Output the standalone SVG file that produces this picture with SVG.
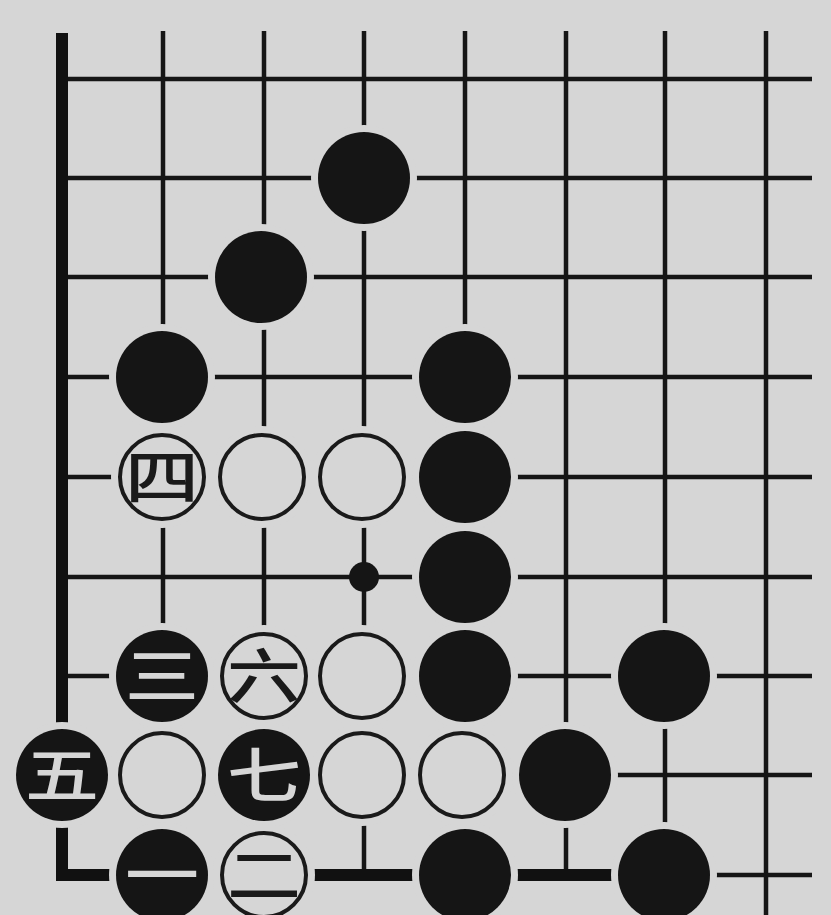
<svg xmlns="http://www.w3.org/2000/svg" width="831" height="915" viewBox="0 0 831 915">
<style>
.thin{stroke:#161616;stroke-width:4.5;fill:none;stroke-linecap:butt}
.edge{stroke:#111;stroke-width:12;fill:none;stroke-linejoin:miter}
.halo{fill:#d6d6d6}
.b{fill:#151515}
.w{fill:#d6d6d6;stroke:#1a1a1a;stroke-width:4}
.star{fill:#151515}
.lb{font-family:"Noto Sans CJK SC","Noto Sans CJK JP",sans-serif;font-size:74px;font-weight:500;text-anchor:middle;fill:#d6d6d6}
.lw{font-family:"Noto Sans CJK SC","Noto Sans CJK JP",sans-serif;font-size:74px;font-weight:500;text-anchor:middle;fill:#1a1a1a}
</style>
<rect width="831" height="915" fill="#d6d6d6"/>
<g id="connectors">
  <path class="thin" d="M62 79H812 M62 178H812 M62 277H812 M62 377H812 M62 477H812 M62 577H812 M62 676H812 M62 775H812"/>
  <path class="thin" d="M163 31V875 M264 31V875 M364 31V875 M465 31V875 M566 31V875 M665 31V875 M766 31V915"/>
  <path class="thin" d="M660 875H812"/>
  <path class="edge" d="M62 33V875H660"/>
</g>
<g id="star"><circle class="star" cx="364" cy="577" r="15"/></g>
<g id="b1"><circle class="halo" cx="364" cy="178" r="53"/><circle class="b" cx="364" cy="178" r="46"/></g>
<g id="b2"><circle class="halo" cx="261" cy="277" r="53"/><circle class="b" cx="261" cy="277" r="46"/></g>
<g id="b3"><circle class="halo" cx="162" cy="377" r="53"/><circle class="b" cx="162" cy="377" r="46"/></g>
<g id="b4"><circle class="halo" cx="465" cy="377" r="53"/><circle class="b" cx="465" cy="377" r="46"/></g>
<g id="b5"><circle class="halo" cx="465" cy="477" r="53"/><circle class="b" cx="465" cy="477" r="46"/></g>
<g id="b6"><circle class="halo" cx="465" cy="577" r="53"/><circle class="b" cx="465" cy="577" r="46"/></g>
<g id="b7"><circle class="halo" cx="465" cy="676" r="53"/><circle class="b" cx="465" cy="676" r="46"/></g>
<g id="b8"><circle class="halo" cx="664" cy="676" r="53"/><circle class="b" cx="664" cy="676" r="46"/></g>
<g id="b9"><circle class="halo" cx="565" cy="775" r="53"/><circle class="b" cx="565" cy="775" r="46"/></g>
<g id="b10"><circle class="halo" cx="465" cy="875" r="53"/><circle class="b" cx="465" cy="875" r="46"/></g>
<g id="b11"><circle class="halo" cx="664" cy="875" r="53"/><circle class="b" cx="664" cy="875" r="46"/></g>
<g id="w1"><circle class="halo" cx="262" cy="477" r="51"/><circle class="w" cx="262" cy="477" r="42"/></g>
<g id="w2"><circle class="halo" cx="362" cy="477" r="51"/><circle class="w" cx="362" cy="477" r="42"/></g>
<g id="w3"><circle class="halo" cx="362" cy="676" r="51"/><circle class="w" cx="362" cy="676" r="42"/></g>
<g id="w4"><circle class="halo" cx="162" cy="775" r="51"/><circle class="w" cx="162" cy="775" r="42"/></g>
<g id="w5"><circle class="halo" cx="362" cy="775" r="51"/><circle class="w" cx="362" cy="775" r="42"/></g>
<g id="w6"><circle class="halo" cx="462" cy="775" r="51"/><circle class="w" cx="462" cy="775" r="42"/></g>
<g id="m4"><circle class="halo" cx="162" cy="477" r="51"/><circle class="w" cx="162" cy="477" r="42"/><text class="lw" transform="translate(162,477) scale(1,0.8)" y="28">四</text></g>
<g id="m3"><circle class="halo" cx="162" cy="676" r="53"/><circle class="b" cx="162" cy="676" r="46"/><text class="lb" transform="translate(162,676) scale(1,0.8)" y="28">三</text></g>
<g id="m6"><circle class="halo" cx="264" cy="676" r="51"/><circle class="w" cx="264" cy="676" r="42"/><text class="lw" transform="translate(264,676) scale(1,0.8)" y="28">六</text></g>
<g id="m5"><circle class="halo" cx="62" cy="775" r="53"/><circle class="b" cx="62" cy="775" r="46"/><text class="lb" transform="translate(62,775) scale(1,0.8)" y="28">五</text></g>
<g id="m7"><circle class="halo" cx="264" cy="775" r="53"/><circle class="b" cx="264" cy="775" r="46"/><text class="lb" transform="translate(264,775) scale(1,0.8)" y="28">七</text></g>
<g id="m1"><circle class="halo" cx="162" cy="875" r="53"/><circle class="b" cx="162" cy="875" r="46"/><text class="lb" transform="translate(162,875) scale(1,0.8)" y="28">一</text></g>
<g id="m2"><circle class="halo" cx="264" cy="875" r="51"/><circle class="w" cx="264" cy="875" r="42"/><text class="lw" transform="translate(264,875) scale(1,0.8)" y="28">二</text></g>
</svg>
